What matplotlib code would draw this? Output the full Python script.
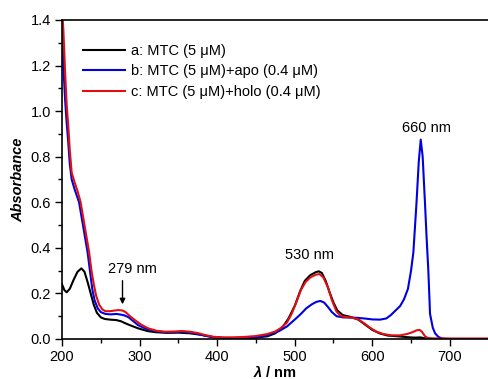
import matplotlib
matplotlib.use('Agg')
import matplotlib.pyplot as plt
from matplotlib.ticker import MultipleLocator, FormatStrFormatter

plt.rcParams['font.family'] = ['Liberation Sans', 'DejaVu Sans']
plt.rcParams['font.size'] = 10.5
plt.rcParams['mathtext.fontset'] = 'custom'
plt.rcParams['mathtext.it'] = 'Liberation Sans:italic:bold'

# a: MTC (5 uM)
wl_a = [200, 203, 206, 210, 215, 220, 225, 229, 233, 237, 241, 245, 250, 255, 262, 270, 276, 281,
        288, 298, 310, 320, 335, 350, 365, 380, 395, 410, 430, 450, 465, 475, 485, 492, 500, 507,
        513, 520, 527, 531, 535, 540, 545, 550, 555, 562, 572, 582, 592, 600, 610, 620, 632, 645,
        655, 662, 668, 675, 690, 750]
abs_a = [0.24, 0.215, 0.205, 0.22, 0.26, 0.295, 0.31, 0.295, 0.25, 0.2, 0.15, 0.115, 0.095, 0.088,
         0.085, 0.083, 0.078, 0.07, 0.06, 0.047, 0.035, 0.03, 0.027, 0.028, 0.025, 0.018, 0.008,
         0.004, 0.004, 0.006, 0.012, 0.025, 0.055, 0.09, 0.145, 0.21, 0.255, 0.28, 0.293, 0.297,
         0.29, 0.255, 0.205, 0.16, 0.125, 0.105, 0.097, 0.085, 0.06, 0.04, 0.024, 0.015, 0.012,
         0.008, 0.006, 0.007, 0.003, 0.001, 0.0, 0.0]

# b: MTC (5 uM) + apo (0.4 uM)
wl_b = [200, 201.7, 204, 206, 208, 210, 212.5, 216, 219, 222, 226, 230, 233, 236, 239, 242, 246,
        250, 256, 263, 270, 276, 281, 286, 292, 298, 308, 320, 333, 345, 355, 365, 375, 385, 395,
        410, 430, 450, 465, 480, 490, 500, 508, 515, 522, 528, 533, 538, 543, 548, 554, 562, 571,
        580, 590, 600, 610, 618, 624, 630, 636, 641, 646, 650, 653, 657, 660, 662.5, 665, 668,
        670, 672.3, 674.5, 678, 681, 685, 690, 700, 750]
abs_b = [1.42, 1.2, 1.05, 0.95, 0.866, 0.77, 0.7, 0.66, 0.63, 0.6, 0.52, 0.44, 0.38, 0.3, 0.22,
         0.17, 0.135, 0.118, 0.11, 0.108, 0.11, 0.107, 0.103, 0.095, 0.078, 0.061, 0.045, 0.035,
         0.03, 0.03, 0.032, 0.029, 0.022, 0.014, 0.008, 0.005, 0.005, 0.008, 0.017, 0.035, 0.055,
         0.085, 0.11, 0.135, 0.152, 0.163, 0.167, 0.16, 0.14, 0.118, 0.1, 0.095, 0.094, 0.093,
         0.09, 0.086, 0.085, 0.09, 0.105, 0.125, 0.145, 0.175, 0.22, 0.3, 0.38, 0.595, 0.78,
         0.875, 0.8, 0.595, 0.45, 0.3, 0.11, 0.05, 0.025, 0.01, 0.002, 0.0, 0.0]

# c: MTC (5 uM) + holo (0.4 uM)
wl_c = [200, 201.7, 204, 206, 208, 210, 212.5, 216, 220, 224, 228, 232, 235, 238, 241, 244, 248,
        252, 256, 262, 268, 273, 278, 282, 287, 294, 302, 311, 322, 333, 345, 355, 365, 375, 385,
        395, 405, 420, 435, 450, 465, 475, 483, 490, 496, 502, 508, 514, 520, 527, 532, 537, 543,
        548, 554, 560, 567, 574, 582, 590, 597, 605, 614, 625, 636, 645, 652, 657, 661, 664, 668,
        672, 678, 690, 750]
abs_c = [1.45, 1.36, 1.17, 1.03, 0.94, 0.83, 0.73, 0.69, 0.65, 0.6, 0.52, 0.44, 0.38, 0.3, 0.24,
         0.19, 0.15, 0.13, 0.122, 0.122, 0.125, 0.127, 0.125, 0.118, 0.102, 0.083, 0.063, 0.047,
         0.036, 0.032, 0.033, 0.035, 0.032, 0.026, 0.017, 0.01, 0.007, 0.007, 0.009, 0.013, 0.022,
         0.033, 0.05, 0.072, 0.11, 0.16, 0.215, 0.25, 0.27, 0.282, 0.285, 0.27, 0.225, 0.17, 0.12,
         0.1, 0.096, 0.094, 0.086, 0.068, 0.05, 0.033, 0.022, 0.016, 0.016, 0.022, 0.03, 0.038,
         0.04, 0.032, 0.012, 0.004, 0.002, 0.002, 0.002]

labels = ['a: MTC (5 \u03bcM)', 'b: MTC (5 \u03bcM)+apo (0.4 \u03bcM)', 'c: MTC (5 \u03bcM)+holo (0.4 \u03bcM)']

fig = plt.figure(figsize=(4.88, 3.79), dpi=100)
ax = fig.add_axes([62/488, 1-339/379, 426.6/488, 319/379])

ax.plot(wl_a, abs_a, color='black', lw=1.5, label=labels[0])
ax.plot(wl_b, abs_b, color='#0000e0', lw=1.5, label=labels[1])
ax.plot(wl_c, abs_c, color='#e01010', lw=1.5, label=labels[2])

ax.set_xlim(200, 750)
ax.set_ylim(0, 1.4)
ax.xaxis.set_major_locator(MultipleLocator(100))
ax.xaxis.set_minor_locator(MultipleLocator(50))
ax.yaxis.set_major_locator(MultipleLocator(0.2))
ax.yaxis.set_minor_locator(MultipleLocator(0.1))
ax.yaxis.set_major_formatter(FormatStrFormatter('%.1f'))
ax.tick_params(direction='out', which='major', length=5, width=1, pad=3)
ax.tick_params(direction='out', which='minor', length=3, width=1)
ax.spines['right'].set_visible(False)
for s in ['left', 'bottom', 'top']:
    ax.spines[s].set_linewidth(1.2)

ax.set_xlabel(r'$\mathit{\lambda}$ / nm', fontweight='bold', labelpad=0)
ax.set_ylabel('Absorbance', fontweight='bold', fontstyle='italic', labelpad=4)

ax.text(291, 0.306, '279 nm', ha='center', va='center')
ax.annotate('', xy=(278, 0.14), xytext=(278, 0.268),
            arrowprops=dict(arrowstyle='-|>', color='black', lw=1, mutation_scale=8))
ax.text(518.5, 0.369, '530 nm', ha='center', va='center')
ax.text(670, 0.926, '660 nm', ha='center', va='center')

ax.legend(loc='upper left', bbox_to_anchor=(0.049, 0.925), frameon=False, borderpad=0,
          borderaxespad=0, handlelength=2.9, handletextpad=0.4, labelspacing=0.45)

fig.savefig('out.png', dpi=100)
